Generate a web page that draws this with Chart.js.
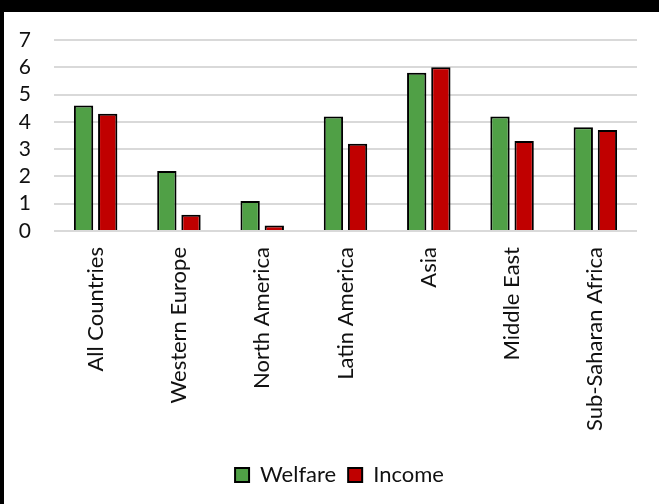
<!DOCTYPE html>
<html>
<head>
<meta charset="utf-8">
<script src="https://cdn.jsdelivr.net/npm/chart.js@4.4.1/dist/chart.umd.min.js"></script>
<style>
  html, body { margin: 0; padding: 0; background: #fff; }
  #topbar { width: 659px; height: 12px; background: #000; }
  #wrap { width: 655px; height: 492px; border-left: 4px solid #000; }
</style>
</head>
<body>
<div id="topbar"></div>
<div id="wrap"><canvas id="chart" width="655" height="492"></canvas></div>
<script>
// Regions on the x axis
const categories = ['All Countries', 'Western Europe', 'North America', 'Latin America', 'Asia', 'Middle East', 'Sub-Saharan Africa'];
// Series values
const welfare = [4.6, 2.2, 1.1, 4.2, 5.8, 4.2, 3.8];
const income  = [4.3, 0.6, 0.2, 3.2, 6.0, 3.3, 3.7];
// Y axis ticks
const yMin = 0, yMax = 7, yStep = 1;

const FONT = 'Lato, "Open Sans", sans-serif';

// legend sits centred under the plot, not under the whole canvas
const legendShift = {
    id: 'legendShift',
    afterLayout(chart) {
        chart.legend.left += 19;
        chart.legend.right += 19;
    }
};

new Chart(document.getElementById('chart'), {
    type: 'bar',
    data: {
        labels: categories,
        datasets: [
            { label: 'Welfare', data: welfare, backgroundColor: '#50a046', borderColor: '#000', borderWidth: 2 },
            { label: 'Income',  data: income,  backgroundColor: '#c00000', borderColor: '#000', borderWidth: 2 }
        ]
    },
    plugins: [legendShift],
    options: {
        responsive: false,
        animation: false,
        categoryPercentage: 0.58,
        barPercentage: 0.8,
        layout: { padding: { left: 0, right: 22, top: 28, bottom: 8 } },
        plugins: {
            tooltip: { enabled: false },
            legend: {
                position: 'bottom',
                labels: {
                    font: { family: FONT, size: 22 },
                    color: '#111',
                    boxWidth: 14,
                    boxHeight: 14,
                    padding: 12
                }
            }
        },
        scales: {
            x: {
                grid: { display: false, drawTicks: false },
                border: { display: false },
                ticks: {
                    font: { family: FONT, size: 22 },
                    color: '#111',
                    minRotation: 90,
                    maxRotation: 90,
                    autoSkip: false,
                    padding: 16
                },
                afterFit: s => { s.height = 221; }
            },
            y: {
                min: yMin,
                max: yMax,
                grid: { color: '#d9d9d9', lineWidth: 2, drawTicks: false },
                border: { display: false },
                ticks: {
                    stepSize: yStep,
                    autoSkip: false,
                    font: { family: FONT, size: 21 },
                    color: '#111',
                    padding: 23
                },
                afterFit: s => {
                    s.width = 50;
                    // tick padding should only push labels sideways, not the plot top
                    s.paddingTop = 12;
                    s.paddingBottom = 12;
                }
            }
        }
    }
});
</script>
</body>
</html>
